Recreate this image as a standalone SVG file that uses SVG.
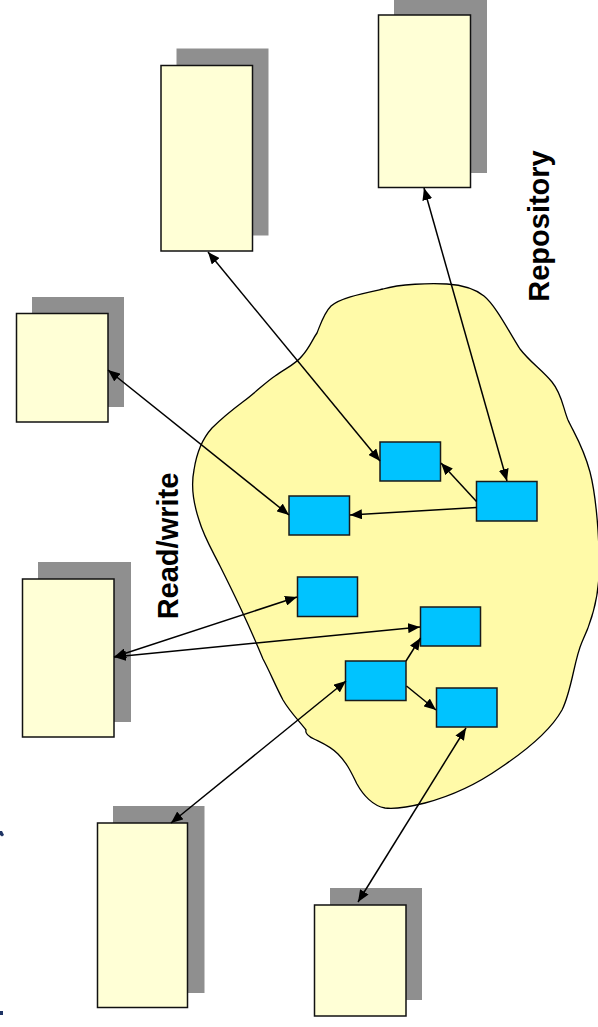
<svg xmlns="http://www.w3.org/2000/svg" width="598" height="1027" viewBox="0 0 598 1027">
<style>
.sh{fill:#8f8f8f}
.doc{fill:#ffffd6;stroke:#111;stroke-width:1.5}
.comp{fill:#00c3ff;stroke:#1a1a1a;stroke-width:1.5}
.cn{stroke:#000;stroke-width:1.5;fill:none}
.lbl{font-family:"Liberation Sans",Arial,sans-serif;font-weight:bold;font-size:29px;fill:#000}
</style>
<defs>
<marker id="ah" viewBox="0 0 12 10" refX="12" refY="5" markerWidth="12" markerHeight="10" markerUnits="userSpaceOnUse" orient="auto-start-reverse">
<path d="M0,0 L12,5 L0,10 z" fill="#000"/>
</marker>
</defs>
<rect width="598" height="1027" fill="#fff"/>
<g id="repository-cloud">
<path d="M383,289 C400,284 430,283 447,284 C462,285 474,288 484,296 C496,306 508,330 520,349 C530,362 542,370 552,382 C562,394 563,408 568,420 C574,433 583,446 590,472 C596,495 600,540 599,575 C598,600 590,625 582,642 C574,660 572,690 562,710 C552,728 530,748 500,768 C480,782 455,795 425,803 C405,808 393,809 385,808 C373,806 363,795 357,784 C351,772 347,763 338,754 C330,746 322,743 314,739 C308,736 305,733 306,730 C300,722 290,712 283,700 C275,685 270,672 263,659 C256,642 248,624 240,607 C232,590 226,578 220,566 C212,550 204,537 199,520 C193,502 191,485 194,470 C197,450 203,438 212,428 C222,418 232,410 244,401 C256,392 266,382 275,376 C286,368 296,364 302,356 C310,347 312,340 317,333 C321,323 324,313 331,306 C340,298 360,294 383,289 Z" fill="#fffaa8" stroke="#000" stroke-width="1.3"/>
</g>
<g id="doc1"><rect class="sh" x="394" y="0" width="93" height="173"/><rect class="doc" x="378.5" y="15" width="92" height="172.5"/></g>
<g id="doc2"><rect class="sh" x="176.5" y="48.5" width="92" height="187"/><rect class="doc" x="161" y="65.5" width="91.5" height="185.5"/></g>
<g id="doc3"><rect class="sh" x="32" y="297" width="92" height="110"/><rect class="doc" x="16.5" y="313.5" width="91.5" height="108.5"/></g>
<g id="doc4"><rect class="sh" x="38" y="562" width="93" height="160"/><rect class="doc" x="22.5" y="579" width="91.5" height="158"/></g>
<g id="doc5"><rect class="sh" x="113" y="806" width="91.5" height="187"/><rect class="doc" x="97.5" y="823" width="90" height="184.5"/></g>
<g id="doc6"><rect class="sh" x="330" y="888" width="92" height="112"/><rect class="doc" x="314.5" y="905" width="91.5" height="111"/></g>
<g id="compA"><rect class="comp" x="380" y="442" width="60.5" height="39"/></g>
<g id="compB"><rect class="comp" x="476.5" y="481.5" width="60.5" height="39.5"/></g>
<g id="compC"><rect class="comp" x="289" y="496" width="60.5" height="39"/></g>
<g id="compD"><rect class="comp" x="297.5" y="577" width="60" height="39.5"/></g>
<g id="compE"><rect class="comp" x="420.5" y="607" width="60" height="39"/></g>
<g id="compF"><rect class="comp" x="345.5" y="661" width="60.5" height="39.5"/></g>
<g id="compG"><rect class="comp" x="436.5" y="688" width="60.5" height="39"/></g>
<g id="connectors">
<line class="cn" x1="208" y1="252" x2="380" y2="461" marker-start="url(#ah)" marker-end="url(#ah)"/>
<line class="cn" x1="424" y1="188" x2="507" y2="481" marker-start="url(#ah)" marker-end="url(#ah)"/>
<line class="cn" x1="108" y1="370" x2="289" y2="515" marker-start="url(#ah)" marker-end="url(#ah)"/>
<line class="cn" x1="114" y1="657" x2="297" y2="597" marker-start="url(#ah)" marker-end="url(#ah)"/>
<line class="cn" x1="114" y1="657" x2="420" y2="627" marker-start="url(#ah)" marker-end="url(#ah)"/>
<line class="cn" x1="171" y1="823" x2="346" y2="681" marker-start="url(#ah)" marker-end="url(#ah)"/>
<line class="cn" x1="358" y1="902" x2="466" y2="728" marker-start="url(#ah)" marker-end="url(#ah)"/>
<line class="cn" x1="476.5" y1="501.5" x2="441" y2="463" marker-end="url(#ah)"/>
<line class="cn" x1="476.5" y1="507.5" x2="350" y2="515" marker-end="url(#ah)"/>
<line class="cn" x1="406" y1="661" x2="420.5" y2="638" marker-end="url(#ah)"/>
<line class="cn" x1="406.5" y1="686" x2="436" y2="710" marker-end="url(#ah)"/>
</g>
<text class="lbl" text-anchor="middle" transform="translate(178,546) rotate(-90)">Read/write</text>
<text class="lbl" text-anchor="middle" transform="translate(549,226) rotate(-90)">Repository</text>
<path d="M0,831 L2,831 L4,835 L2,836.5 L0,835 Z" fill="#1f3464"/>
<rect x="0" y="1011" width="3" height="4" fill="#1f3464"/>
</svg>
